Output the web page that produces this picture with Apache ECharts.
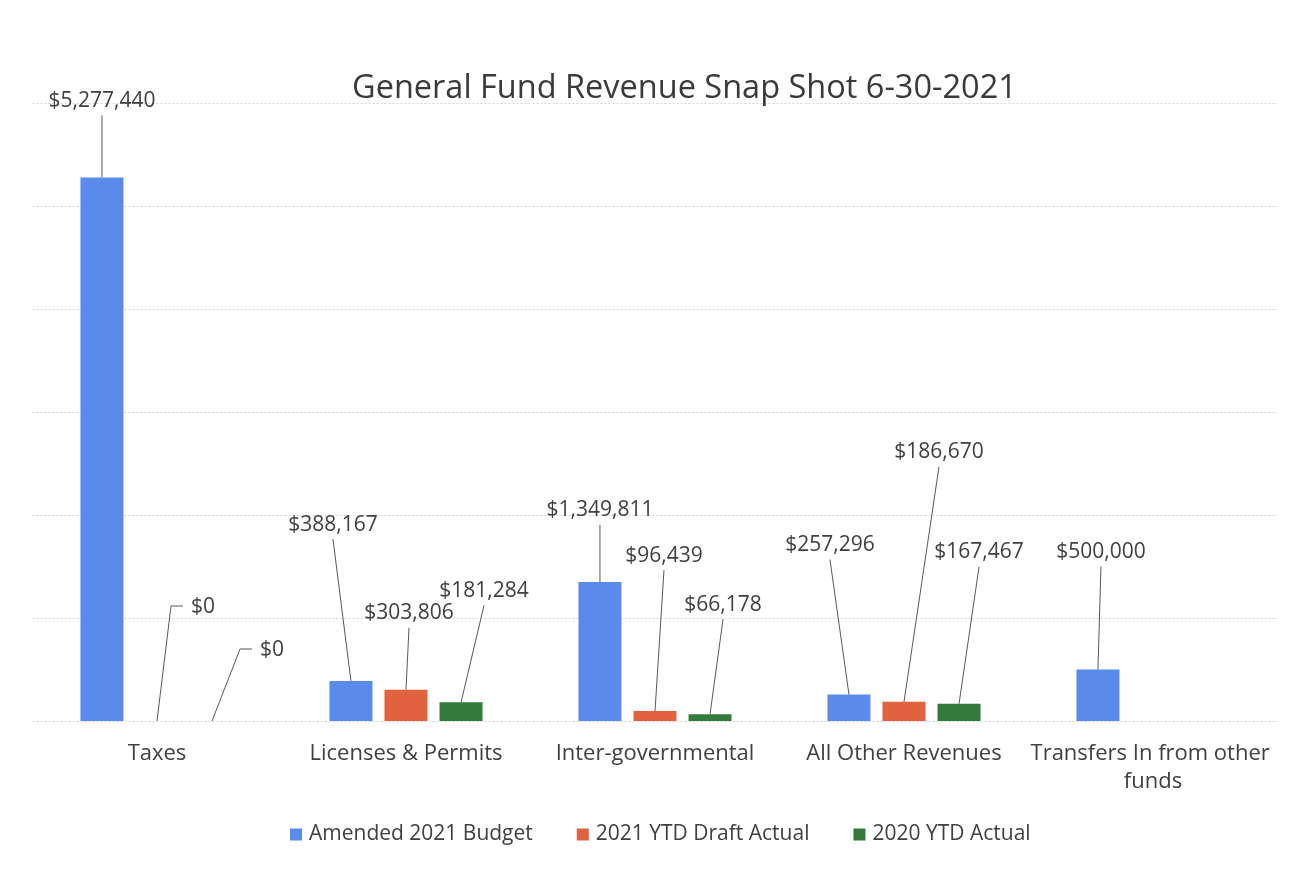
<!DOCTYPE html>
<html>
<head>
<meta charset="utf-8">
<script src="https://cdn.jsdelivr.net/npm/echarts@6/dist/echarts.min.js"></script>
<style>
html,body{margin:0;padding:0;background:#fff;}
#chart{width:1308px;height:872px;}
</style>
</head>
<body>
<div id="chart"></div>
<script>
// ---- data ----
const categories = ['Taxes', 'Licenses & Permits', 'Inter-governmental', 'All Other Revenues', 'Transfers In from other funds'];
const seriesNames = ['Amended 2021 Budget', '2021 YTD Draft Actual', '2020 YTD Actual'];
const amended2021Budget = [5277440, 388167, 1349811, 257296, 500000];
const ytd2021DraftActual = [0, 303806, 96439, 186670, null];
const ytd2020Actual = [0, 181284, 66178, 167467, null];
const yTicks = [0, 1000000, 2000000, 3000000, 4000000, 5000000, 6000000];

// ---- layout of callout labels (offset of leader-line end from bar top centre) ----
const calloutOffsets = [
  [{dx: 0, dy: -62}, {dx: -18, dy: -142}, {dx: 0, dy: -57}, {dx: -19, dy: -135}, {dx: 3, dy: -103}],
  [{dx: 14, dy: -115, side: 'left'}, {dx: 3, dy: -62}, {dx: 9, dy: -141}, {dx: 35, dy: -235}, null],
  [{dx: 28, dy: -72, side: 'left'}, {dx: 23, dy: -97}, {dx: 13, dy: -95}, {dx: 20, dy: -137}, null]
];
const colors = ['#5B8BEA', '#E0623E', '#357A3B'];
const BAR_W = 43, GAP_RATIO = 0.28;
const STEP = BAR_W * (1 + GAP_RATIO);
const FONT = '"Open Sans", "Noto Sans", sans-serif';
const TEXT = '#404040';

const allSeriesData = [amended2021Budget, ytd2021DraftActual, ytd2020Actual];

function fmt(v) { return '$' + Number(v).toLocaleString('en-US'); }

const barSeries = allSeriesData.map((arr, s) => ({
  name: seriesNames[s],
  type: 'bar',
  barWidth: BAR_W,
  barGap: (GAP_RATIO * 100) + '%',
  data: arr,
  itemStyle: { color: colors[s] },
  label: {
    show: true,
    position: 'top',
    formatter: p => fmt(p.value),
    fontFamily: FONT,
    fontSize: 21,
    color: TEXT
  },
  labelLayout: function (params) {
    const off = calloutOffsets[s][params.dataIndex];
    if (!off) return {};
    const cx = params.rect.x + params.rect.width / 2;
    const top = params.rect.y;
    if (off.side === 'left') {
      return { x: cx + off.dx + 20, y: top + off.dy + 1, align: 'left', verticalAlign: 'middle' };
    }
    return { x: cx + off.dx, y: top + off.dy - 4, align: 'center', verticalAlign: 'bottom' };
  },
  emphasis: { disabled: true },
  animation: false
}));

const leaderData = [];
allSeriesData.forEach((arr, s) => arr.forEach((v, i) => {
  if (v !== null && calloutOffsets[s][i]) leaderData.push([i, v, s]);
}));

const leaderSeries = {
  name: 'leaders',
  type: 'custom',
  silent: true,
  z: 5,
  animation: false,
  encode: { x: 0, y: 1 },
  data: leaderData,
  renderItem: function (params, api) {
    const ci = api.value(0), v = api.value(1), s = api.value(2);
    const p = api.coord([ci, v]);
    const x0 = p[0] + (s - 1) * STEP, y0 = p[1];
    const off = calloutOffsets[s][ci];
    const pts = [[x0, y0], [x0 + off.dx, y0 + off.dy]];
    if (off.side === 'left') pts.push([x0 + off.dx + 12, y0 + off.dy]);
    return {
      type: 'polyline',
      shape: { points: pts },
      style: { stroke: '#595959', lineWidth: 1, fill: null }
    };
  }
};

const chart = echarts.init(document.getElementById('chart'), null, { renderer: 'canvas' });
chart.setOption({
  backgroundColor: '#ffffff',
  animation: false,
  title: {
    text: 'General Fund Revenue Snap Shot 6-30-2021',
    left: 347,
    top: 67,
    textStyle: { fontFamily: FONT, fontSize: 32.5, fontWeight: 'normal', color: '#3a3a3a' }
  },
  legend: {
    data: seriesNames,
    bottom: 22,
    left: 285,
    itemWidth: 12,
    itemHeight: 12,
    itemGap: 44,
    icon: 'rect',
    textStyle: { fontFamily: FONT, fontSize: 21, color: TEXT, padding: [0, 0, 0, 2] }
  },
  grid: { left: 32.5, right: 30.5, top: 103, bottom: 151, containLabel: false },
  xAxis: {
    type: 'category',
    data: categories,
    axisLine: { show: false },
    axisTick: { show: false },
    axisLabel: {
      fontFamily: FONT, fontSize: 22, color: TEXT, margin: 19,
      width: 250, overflow: 'break', lineHeight: 28, interval: 0
    }
  },
  yAxis: {
    type: 'value',
    min: yTicks[0],
    max: yTicks[yTicks.length - 1],
    interval: yTicks[1] - yTicks[0],
    axisLabel: { show: false },
    axisLine: { show: false },
    axisTick: { show: false },
    splitLine: { show: true, lineStyle: { color: '#d4d4d4', type: [2, 2], width: 1 } }
  },
  series: [...barSeries, leaderSeries]
});
</script>
</body>
</html>
